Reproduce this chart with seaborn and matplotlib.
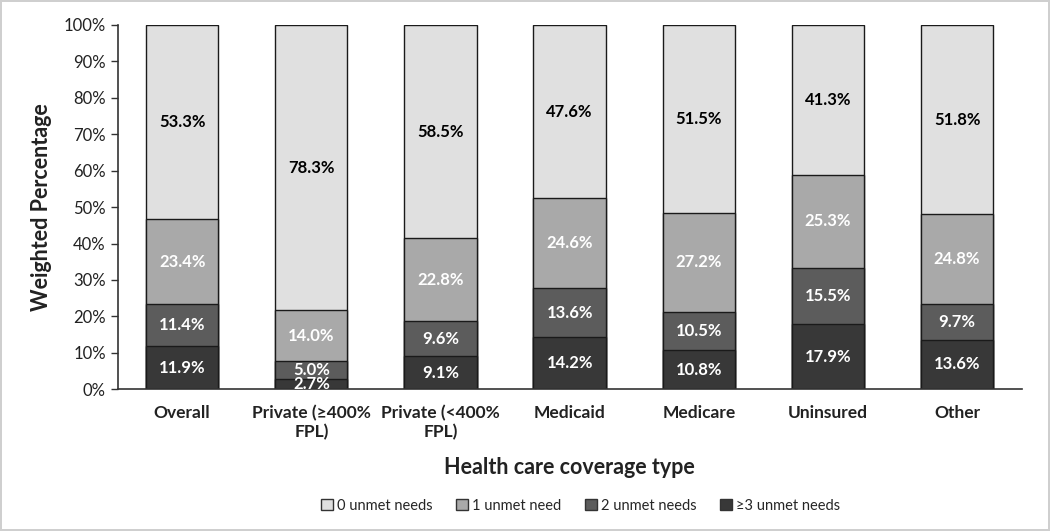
import numpy as np
import pandas as pd
import matplotlib.pyplot as plt
from matplotlib.patches import Patch
import seaborn as sns

# ==============================
# DATA
# ==============================

categories = ["Overall", "Private (≥400%\nFPL)", "Private (<400%\nFPL)",
              "Medicaid", "Medicare", "Uninsured", "Other"]
needs_0 = [53.3, 78.3, 58.5, 47.6, 51.5, 41.3, 51.8]
needs_1 = [23.4, 14.0, 22.8, 24.6, 27.2, 25.3, 24.8]
needs_2 = [11.4, 5.0, 9.6, 13.6, 10.5, 15.5, 9.7]
needs_3 = [11.9, 2.7, 9.1, 14.2, 10.8, 17.9, 13.6]

series_names = ["0 unmet needs", "1 unmet need", "2 unmet needs", "≥3 unmet needs"]
colors = ["#e0e0e0", "#a9a9a9", "#5c5c5c", "#383838"]
text_colors = ["black", "white", "white", "white"]

# ==============================
# FIGURE
# ==============================

sns.set_style("white")
plt.rcParams['font.family'] = ['Lato', 'DejaVu Sans']

fig = plt.figure(figsize=(10.5, 5.31), dpi=100)
fig.patch.set_edgecolor("#cfcfcf")
fig.patch.set_linewidth(1.5)
ax = fig.add_axes([0.112, 0.267, 0.861, 0.686])

# stacked from the bottom: >=3, 2, 1, 0
stack = [needs_3, needs_2, needs_1, needs_0]
stack_colors = colors[::-1]
stack_text = text_colors[::-1]
cum = np.cumsum(np.array(stack), axis=0)

# draw tallest cumulative bars first so shorter ones sit on top
for i in range(len(stack) - 1, -1, -1):
    df = pd.DataFrame({"cat": categories, "val": cum[i]})
    sns.barplot(data=df, x="cat", y="val", color=stack_colors[i],
                saturation=1, width=0.56, edgecolor="#1a1a1a",
                linewidth=1.0, ax=ax)

# ==============================
# VALUE LABELS
# ==============================

for i, vals in enumerate(stack):
    for j, v in enumerate(vals):
        center = cum[i][j] - v / 2
        ax.text(j, center, f"{v:.1f}%", ha="center", va="center",
                fontsize=12, fontweight="bold", color=stack_text[i])

# ==============================
# AXES
# ==============================

ax.set_xlim(-0.5, len(categories) - 0.5)
ax.set_ylim(0, 100)
ax.set_yticks(np.arange(0, 101, 10))
ax.set_yticklabels([f"{t}%" for t in range(0, 101, 10)], fontsize=12, color="#222222")
ax.tick_params(axis="y", left=True, length=5, width=1, color="#333333")
ax.tick_params(axis="x", bottom=False, pad=8)
for lab in ax.get_xticklabels():
    lab.set_fontweight("bold")
    lab.set_fontsize(12.5)
    lab.set_color("#222222")

for s in ["top", "right"]:
    ax.spines[s].set_visible(False)
ax.spines["left"].set_color("#333333")
ax.spines["bottom"].set_color("#333333")
ax.spines["left"].set_linewidth(1.2)
ax.spines["bottom"].set_linewidth(1.2)

ax.set_xlabel("Health care coverage type", fontsize=15.5, fontweight="bold",
              color="#222222", labelpad=12)
ax.set_ylabel("Weighted Percentage", fontsize=15.5, fontweight="bold",
              color="#222222", labelpad=8)

# ==============================
# LEGEND
# ==============================

handles = [Patch(facecolor=c, edgecolor="#333333", linewidth=1.0, label=n)
           for c, n in zip(colors, series_names)]
fig.legend(handles=handles, loc="center", bbox_to_anchor=(0.553, 0.048),
           ncol=4, frameon=False, fontsize=10.5, handlelength=0.8,
           handleheight=0.8, handletextpad=0.3, columnspacing=1.6)

plt.savefig("out.png", dpi=100)
plt.close()
